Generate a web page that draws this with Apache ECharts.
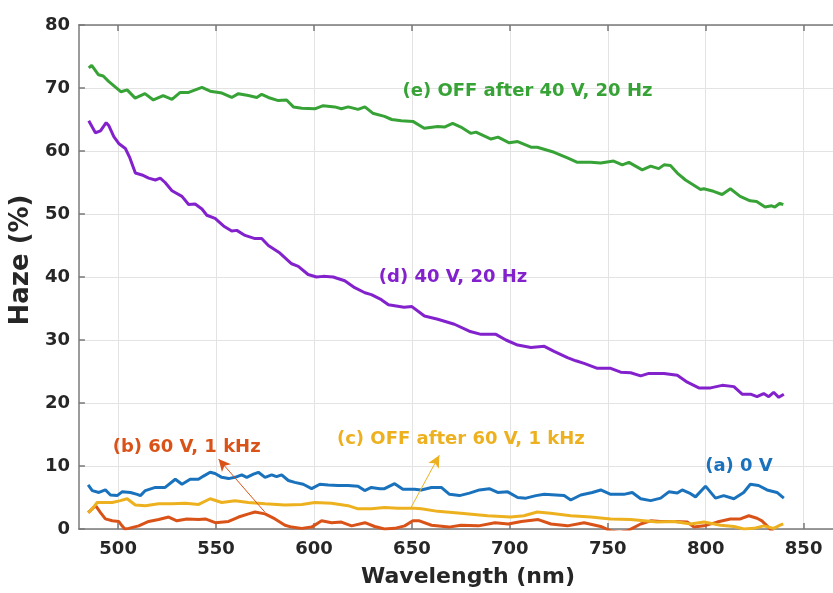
<!DOCTYPE html>
<html>
<head>
<meta charset="utf-8">
<script src="https://cdn.jsdelivr.net/npm/echarts@6/dist/echarts.min.js"></script>
<style>
  html, body { margin: 0; padding: 0; background: #ffffff; }
  #chart { width: 833px; height: 593px; }
</style>
</head>
<body>
<div id="chart"></div>
<script>
// Haze spectra of the cell under different driving conditions.

const xTicks = [500, 550, 600, 650, 700, 750, 800, 850];

// (a) 0 V
const wlA = [484.7, 486.8, 490.2, 493.5, 496.1, 499.5, 502, 506.3, 509.7, 511.4, 513.9, 519, 524, 529.2, 532.6, 536.8, 541, 543.6, 547, 549.5, 552.9, 556.4, 559.7, 563.1, 565.7, 569.1, 571.6, 575, 578.4, 580.9, 583.5, 586.9, 590.2, 594.5, 598.8, 603, 607.3, 612.3, 617.4, 622.5, 625.9, 629.3, 633.6, 636, 641.2, 645.4, 651.3, 654.8, 660, 665, 669.2, 674.3, 679.4, 684.5, 689.5, 693.8, 698.9, 704, 708.2, 713.3, 717.6, 723.5, 727.7, 731.1, 736.2, 742.1, 746.4, 751.5, 758.2, 762.5, 766.8, 771.9, 777, 781.2, 785.5, 788, 792.3, 794.8, 799.9, 805, 809.2, 814.4, 819.4, 822.8, 827, 831.3, 836.4, 839.9];
const hazeA = [7.0, 6.1, 5.8, 6.2, 5.4, 5.3, 5.9, 5.8, 5.5, 5.3, 6.1, 6.6, 6.6, 7.9, 7.1, 7.9, 7.9, 8.4, 9.0, 8.8, 8.2, 8.0, 8.2, 8.6, 8.2, 8.7, 9.0, 8.2, 8.6, 8.3, 8.6, 7.7, 7.4, 7.1, 6.4, 7.1, 7.0, 6.9, 6.9, 6.8, 6.1, 6.6, 6.4, 6.4, 7.2, 6.3, 6.3, 6.2, 6.6, 6.6, 5.5, 5.3, 5.7, 6.2, 6.4, 5.8, 5.9, 5.0, 4.9, 5.3, 5.5, 5.4, 5.3, 4.6, 5.4, 5.8, 6.2, 5.5, 5.5, 5.8, 4.8, 4.5, 4.9, 5.9, 5.7, 6.2, 5.6, 5.1, 6.8, 4.9, 5.3, 4.8, 5.8, 7.1, 6.9, 6.2, 5.8, 4.9];

// (b) 60 V, 1 kHz
const wlB = [484.7, 488.5, 491, 493.5, 497, 500.3, 502, 503.4, 505.4, 510.5, 515.6, 520.7, 525.8, 530, 535.1, 541.1, 544.5, 549.6, 556.4, 561.5, 566.6, 569.9, 575, 580.1, 585.2, 588.6, 593.7, 598.8, 603.9, 609, 614, 619.2, 626, 631, 636, 641.2, 646.3, 650.5, 653.8, 660, 668.9, 675, 684, 692.4, 699.2, 705.9, 714.5, 721, 729.4, 737.9, 746.4, 751.5, 756, 760, 766.8, 771.9, 777, 783.8, 790.6, 794, 799.1, 805.8, 812.6, 817.7, 822, 826.2, 828.7, 831.3, 833, 835];
const hazeB = [2.6, 3.7, 2.6, 1.6, 1.3, 1.2, 0.5, 0.0, 0.1, 0.5, 1.2, 1.5, 1.9, 1.3, 1.6, 1.5, 1.6, 1.0, 1.2, 1.9, 2.4, 2.7, 2.4, 1.6, 0.6, 0.3, 0.1, 0.3, 1.3, 1.0, 1.1, 0.5, 1.0, 0.4, 0.0, 0.1, 0.5, 1.3, 1.3, 0.6, 0.3, 0.6, 0.5, 1.0, 0.8, 1.2, 1.5, 0.8, 0.5, 1.0, 0.4, -0.3, -0.5, -0.3, 0.8, 1.3, 1.2, 1.2, 1.1, 0.3, 0.5, 1.1, 1.6, 1.6, 2.1, 1.7, 1.3, 0.5, -0.1, -0.6];

// (c) OFF after 60 V, 1 kHz
const wlC = [484.7, 486.8, 489.3, 491.9, 497, 501.2, 504.6, 508.8, 513.9, 520.7, 527.5, 534.3, 541.1, 547, 552.9, 559.7, 566.5, 575, 585.2, 593.8, 600.4, 608.9, 617.4, 622.5, 629.3, 636, 642.8, 651.3, 654.8, 663.2, 675, 688.6, 700.4, 707.2, 714, 720.8, 731.1, 741.3, 751.5, 761.7, 768.5, 775.3, 783.8, 792.3, 799.1, 807.6, 814.4, 819.5, 824.6, 829.6, 834.7, 838, 839.6];
const hazeC = [2.6, 3.2, 4.2, 4.2, 4.2, 4.5, 4.8, 3.8, 3.7, 4.0, 4.0, 4.1, 3.9, 4.8, 4.2, 4.5, 4.2, 4.0, 3.8, 3.9, 4.2, 4.1, 3.7, 3.2, 3.2, 3.4, 3.3, 3.3, 3.2, 2.8, 2.5, 2.1, 1.9, 2.1, 2.7, 2.5, 2.1, 1.9, 1.6, 1.5, 1.3, 1.1, 1.2, 0.8, 1.1, 0.6, 0.4, 0.0, 0.1, 0.5, 0.1, 0.6, 0.8];

// (d) 40 V, 20 Hz
const wlD = [485, 488.4, 491, 493.9, 495.3, 497.8, 500.3, 503.7, 506, 508.8, 512.2, 515.6, 519, 521.5, 524, 527.5, 532.6, 536, 539.3, 542.8, 545.3, 549.5, 553.8, 558, 560.6, 564.8, 569.9, 573.3, 576.7, 582.6, 588.6, 592, 597, 601.3, 604.7, 609.8, 615.7, 620.8, 626, 629.3, 634.4, 638, 646, 650, 656.4, 663.2, 671.7, 679.3, 685.3, 692.9, 698, 704, 710.8, 717.6, 722.6, 729.4, 733.7, 737.9, 744.7, 751.5, 756.6, 761.7, 766.8, 771, 778.7, 785.5, 790.6, 796.5, 802.5, 808.4, 814.4, 818.6, 822.9, 826.2, 829.6, 832.2, 834.7, 837.3, 839.9];
const hazeD = [64.8, 62.9, 63.2, 64.5, 64.0, 62.3, 61.2, 60.4, 58.9, 56.5, 56.2, 55.7, 55.4, 55.7, 55.0, 53.7, 52.8, 51.5, 51.6, 50.8, 49.8, 49.3, 48.1, 47.3, 47.4, 46.6, 46.1, 46.1, 45.0, 43.8, 42.1, 41.7, 40.4, 40.0, 40.1, 40.0, 39.4, 38.3, 37.5, 37.2, 36.4, 35.6, 35.2, 35.3, 33.8, 33.3, 32.5, 31.4, 30.9, 30.9, 30.0, 29.2, 28.8, 29.0, 28.2, 27.2, 26.7, 26.3, 25.5, 25.5, 24.9, 24.8, 24.3, 24.7, 24.7, 24.4, 23.3, 22.4, 22.4, 22.8, 22.6, 21.4, 21.4, 21.0, 21.5, 21.0, 21.7, 20.9, 21.4];

// (e) OFF after 40 V, 20 Hz
const wlE = [485, 486.5, 490, 492.4, 495, 501.5, 504.6, 508.7, 513.7, 518, 523, 527.5, 531.7, 536, 542.8, 547, 553, 558, 561.4, 566.5, 570.8, 573.3, 576.7, 581.8, 586, 589.5, 593.8, 600.4, 604.7, 610.6, 614, 617.5, 622.5, 626, 630, 636, 639.7, 644.6, 650.5, 656.3, 663.2, 666.6, 670.8, 675, 680, 682.7, 690.4, 694, 699.7, 704, 710.8, 714, 722.6, 729.4, 734.5, 741.3, 746.4, 753, 757.4, 760.8, 767.6, 771.9, 776, 778.7, 782, 785.5, 789.7, 797.4, 799, 804, 808.4, 812.6, 817.6, 822.7, 826, 830.3, 833.7, 835.3, 837.9, 839.6];
const hazeE = [73.2, 73.6, 72.1, 71.9, 71.1, 69.4, 69.7, 68.4, 69.1, 68.1, 68.8, 68.2, 69.3, 69.3, 70.1, 69.5, 69.2, 68.5, 69.1, 68.8, 68.5, 69.0, 68.5, 68.0, 68.1, 67.0, 66.8, 66.7, 67.2, 67.0, 66.7, 67.0, 66.6, 67.0, 66.0, 65.5, 65.0, 64.8, 64.7, 63.6, 63.9, 63.8, 64.4, 63.8, 62.8, 63.0, 61.9, 62.2, 61.3, 61.5, 60.6, 60.6, 59.8, 58.9, 58.2, 58.2, 58.1, 58.4, 57.8, 58.2, 57.0, 57.6, 57.2, 57.8, 57.7, 56.5, 55.4, 53.9, 54.0, 53.6, 53.1, 54.0, 52.8, 52.1, 52.0, 51.1, 51.3, 51.1, 51.7, 51.5];

// Curve labels: [wavelength, haze] anchor of each text
const labelA = { text: '(a) 0 V', at: [817, 10.0] };
const labelB = { text: '(b) 60 V, 1 kHz', at: [535, 12.9] };
const labelC = { text: '(c) OFF after 60 V, 1 kHz', at: [675, 14.3] };
const labelD = { text: '(d) 40 V, 20 Hz', at: [671, 39.9] };
const labelE = { text: '(e) OFF after 40 V, 20 Hz', at: [709, 69.5] };

// Pointer arrows: from the curve to its label
const arrowB = [[575, 2.65], [551.3, 11.1]];
const arrowC = [[649.7, 3.5], [664, 11.7]];

const colors = {
  a: '#1a72bd',
  b: '#d95319',
  c: '#edb120',
  d: '#8322cc',
  e: '#37a336'
};

const FONT = 'DejaVu Sans';
const zip = (xs, ys) => xs.map((x, i) => [x, ys[i]]);

function curve(name, xs, ys, color, label, arrow) {
  const s = {
    name: name,
    type: 'line',
    data: zip(xs, ys),
    showSymbol: false,
    symbol: 'none',
    smooth: false,
    lineStyle: { color: color, width: 3 },
    itemStyle: { color: color },
    markPoint: {
      symbol: 'circle',
      symbolSize: 0,
      silent: true,
      label: {
        show: true,
        position: 'inside',
        formatter: label.text,
        color: color,
        fontFamily: FONT,
        fontWeight: 'bold',
        fontSize: 18
      },
      data: [{ coord: label.at }]
    }
  };
  if (arrow) {
    s.markLine = {
      silent: true,
      symbol: ['none', 'arrow'],
      symbolSize: [9, 12],
      label: { show: false },
      lineStyle: { color: color, width: 1, type: 'solid' },
      emphasis: { disabled: true },
      data: [[{ coord: arrow[0] }, { coord: arrow[1] }]]
    };
  }
  return s;
}

const axisGray = '#7a7a7a';
const textDark = '#262626';
const X_MIN = 480;
const X_MAX = 865;

const chart = echarts.init(document.getElementById('chart'), null, { renderer: 'canvas' });
chart.setOption({
  animation: false,
  backgroundColor: '#ffffff',
  grid: { left: 77, top: 25, right: 0, bottom: 63, containLabel: false },
  xAxis: [
    {
      type: 'value',
      position: 'bottom',
      min: X_MIN,
      max: X_MAX,
      name: 'Wavelength (nm)',
      nameLocation: 'middle',
      nameGap: 37,
      nameTextStyle: { fontFamily: FONT, fontWeight: 'bold', fontSize: 22, color: textDark, padding: [0, 0, 0, 24] },
      axisLine: { show: true, onZero: false, lineStyle: { color: axisGray, width: 1.5 } },
      axisTick: { show: true, inside: true, length: 6, customValues: xTicks, lineStyle: { color: axisGray, width: 1.5 } },
      axisLabel: { customValues: xTicks, margin: 11, fontFamily: FONT, fontWeight: 'bold', fontSize: 18, color: textDark },
      splitLine: { show: true, lineStyle: { color: '#e3e3e3', width: 1 } }
    },
    {
      type: 'value',
      position: 'top',
      min: X_MIN,
      max: X_MAX,
      axisLine: { show: true, onZero: false, lineStyle: { color: axisGray, width: 1.5 } },
      axisTick: { show: true, inside: true, length: 6, customValues: xTicks, lineStyle: { color: axisGray, width: 1.5 } },
      axisLabel: { show: false },
      splitLine: { show: false }
    }
  ],
  yAxis: {
    type: 'value',
    min: 0,
    max: 80,
    interval: 10,
    name: 'Haze (%)',
    nameLocation: 'middle',
    nameGap: 43,
    nameTextStyle: { fontFamily: FONT, fontWeight: 'bold', fontSize: 26, color: textDark, padding: [0, 0, 0, 34] },
    axisLine: { show: true, lineStyle: { color: axisGray, width: 1.5 } },
    axisTick: { show: true, inside: true, length: 6, lineStyle: { color: axisGray, width: 1.5 } },
    axisLabel: { margin: 9, fontFamily: FONT, fontWeight: 'bold', fontSize: 18, color: textDark },
    splitLine: { show: true, lineStyle: { color: '#e3e3e3', width: 1 } }
  },
  series: [
    curve('(a)', wlA, hazeA, colors.a, labelA, null),
    curve('(b)', wlB, hazeB, colors.b, labelB, arrowB),
    curve('(c)', wlC, hazeC, colors.c, labelC, arrowC),
    curve('(d)', wlD, hazeD, colors.d, labelD, null),
    curve('(e)', wlE, hazeE, colors.e, labelE, null)
  ]
});
</script>
</body>
</html>
